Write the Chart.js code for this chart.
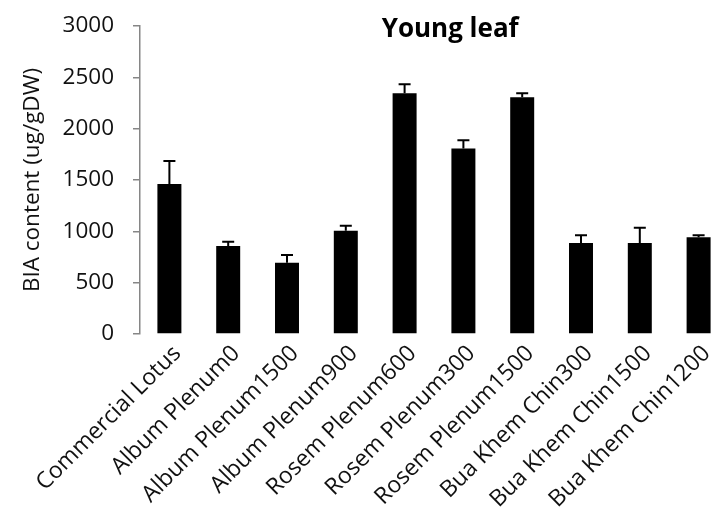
<!DOCTYPE html>
<html>
<head>
<meta charset="utf-8">
<script src="https://cdn.jsdelivr.net/npm/chart.js@4/dist/chart.umd.min.js"></script>
<style>
  html, body { margin: 0; padding: 0; background: #fff; overflow: hidden; }
  #wrap { width: 731px; height: 511px; position: relative; }
</style>
</head>
<body>
<div id="wrap"><canvas id="c"></canvas></div>
<script>
// Cultivars / treatments along the x axis
const categories = [
  'Commercial Lotus', 'Album Plenum0', 'Album Plenum1500', 'Album Plenum900',
  'Rosem Plenum600', 'Rosem Plenum300', 'Rosem Plenum1500',
  'Bua Khem Chin300', 'Bua Khem Chin1500', 'Bua Khem Chin1200'
];
// Mean BIA content (ug/gDW)
const biaMeans = [1460, 857, 695, 1006, 2345, 1806, 2305, 886, 886, 942];
// Upper error (standard deviation)
const biaErrors = [226, 42, 75, 48, 87, 80, 40, 75, 149, 20];
// Value axis ticks
const yTickValues = [0, 500, 1000, 1500, 2000, 2500, 3000];

const chartTitle = 'Young leaf';
const yAxisTitle = 'BIA content (ug/gDW)';

const FONT = "'Open Sans', sans-serif";
const TEXT = '#111';
const AXIS = '#868686';

// Draws the upper whisker and cap for each bar
const errorBars = {
  id: 'errorBars',
  afterDatasetsDraw(chart) {
    const meta = chart.getDatasetMeta(0);
    const yScale = chart.scales.y;
    const ctx = chart.ctx;
    ctx.save();
    ctx.strokeStyle = '#000';
    ctx.lineWidth = 2;
    meta.data.forEach((bar, i) => {
      const top = yScale.getPixelForValue(biaMeans[i] + biaErrors[i]);
      const base = bar.y;
      ctx.beginPath();
      ctx.moveTo(bar.x, base);
      ctx.lineTo(bar.x, top);
      ctx.moveTo(bar.x - 6, top);
      ctx.lineTo(bar.x + 6, top);
      ctx.stroke();
    });
    ctx.restore();
  }
};

// Title overlaid at the top of the plot area
const overlayTitle = {
  id: 'overlayTitle',
  afterDraw(chart) {
    const a = chart.chartArea;
    const ctx = chart.ctx;
    ctx.save();
    ctx.font = "bold 26px " + FONT;
    ctx.fillStyle = '#000';
    ctx.textAlign = 'center';
    ctx.textBaseline = 'alphabetic';
    ctx.fillText(chartTitle, a.left + a.width * 0.5275, a.top + 11);
    ctx.restore();
  }
};

new Chart(document.getElementById('c'), {
  type: 'bar',
  data: {
    labels: categories,
    datasets: [{
      data: biaMeans,
      backgroundColor: '#000',
      borderColor: '#000',
      borderWidth: 0,
      categoryPercentage: 1,
      barPercentage: 0.408
    }]
  },
  options: {
    responsive: true,
    maintainAspectRatio: false,
    animation: false,
    layout: { padding: { top: 26, right: 3, left: 0, bottom: 0 } },
    plugins: {
      legend: { display: false },
      title: { display: false },
      tooltip: { enabled: false }
    },
    scales: {
      x: {
        grid: { display: false, drawTicks: false },
        border: { display: false },
        ticks: {
          font: { family: FONT, size: 23 },
          color: TEXT,
          minRotation: 45,
          maxRotation: 45,
          padding: 6,
          labelOffset: 8,
          autoSkip: false
        },
        afterFit(scale) { scale.height = 511 - 334; }
      },
      y: {
        min: 0,
        max: 3000,
        afterBuildTicks(scale) { scale.ticks = yTickValues.map(v => ({ value: v })); },
        ticks: {
          font: { family: FONT, size: 22.5 },
          color: TEXT,
          padding: 19,
          callback: v => String(v)
        },
        grid: {
          display: true,
          drawOnChartArea: false,
          drawTicks: true,
          tickLength: 7,
          color: AXIS,
          lineWidth: 1.5
        },
        border: { display: true, color: AXIS, width: 1.5 },
        title: {
          display: true,
          text: yAxisTitle,
          font: { family: FONT, size: 22.5 },
          color: TEXT,
          padding: { top: 19, bottom: 0 }
        },
        afterFit(scale) {
          scale.width = 140;
          scale.paddingTop = 0;
          scale.paddingBottom = 0;
        }
      }
    }
  },
  plugins: [errorBars, overlayTitle]
});
</script>
</body>
</html>
